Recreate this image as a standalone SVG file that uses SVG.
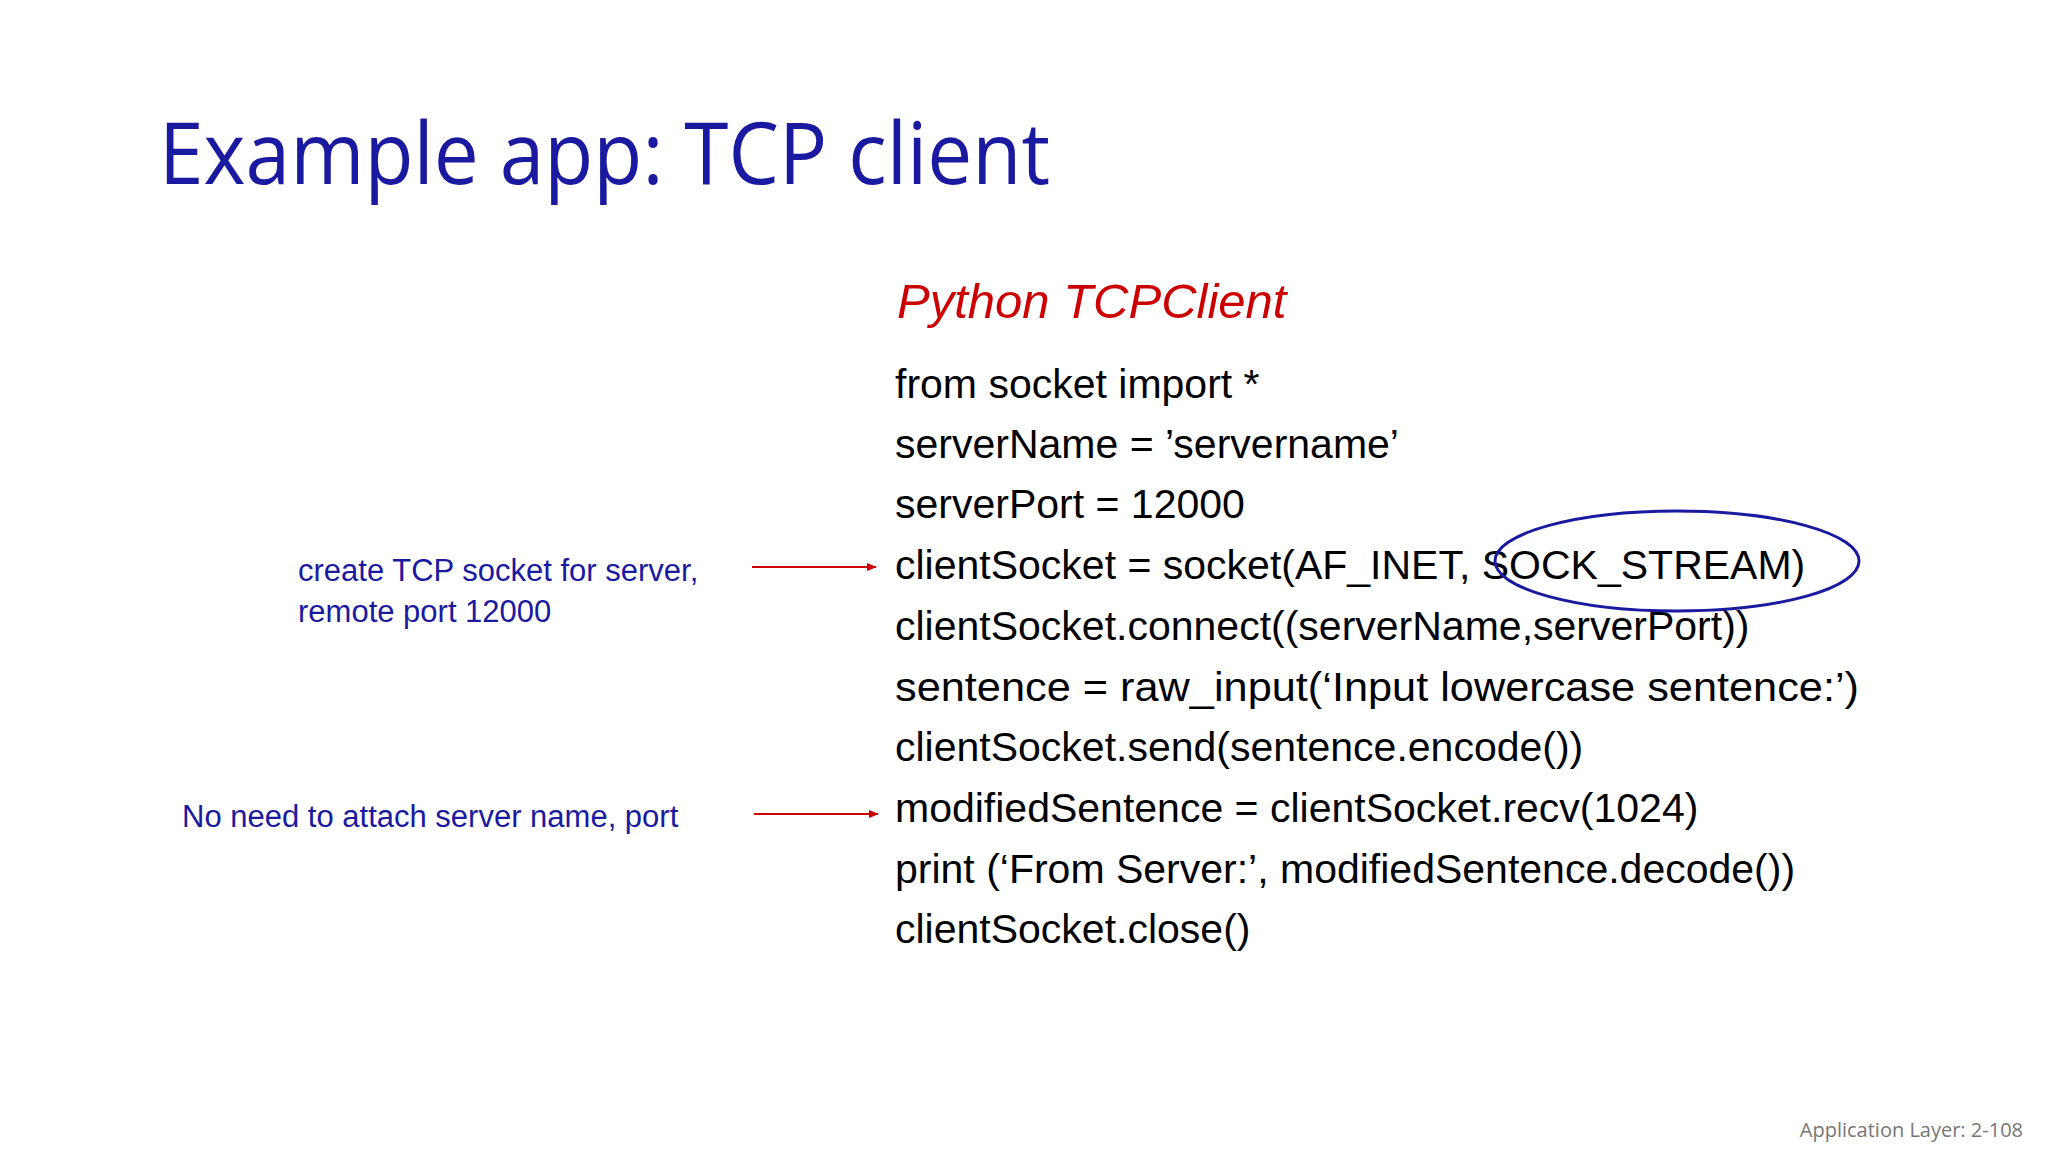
<svg xmlns="http://www.w3.org/2000/svg" width="2048" height="1152" viewBox="0 0 2048 1152">
<defs>
<marker id="ah" markerWidth="10" markerHeight="8" refX="9" refY="4" orient="auto" markerUnits="userSpaceOnUse"><path d="M0,0 L10,4 L0,8 z" fill="#cc0000"/></marker>
<style>
.code{font-family:"Liberation Sans",Arial,sans-serif;font-size:41px;fill:#000}
.note{font-family:"Liberation Sans",Arial,sans-serif;font-size:31px;fill:#1a1aa0}
.arr{stroke:#cc0000;stroke-width:2;fill:none;marker-end:url(#ah)}
</style>
</defs>
<rect width="2048" height="1152" fill="#fff"/>
<text id="title" x="159" y="184" font-family="Open Sans,Noto Sans,sans-serif" font-size="86" fill="#1a1aa0" textLength="891" lengthAdjust="spacingAndGlyphs">Example app: TCP client</text>
<text id="subtitle" x="897" y="318" font-family="Liberation Sans,Arial,sans-serif" font-size="49" font-style="italic" fill="#cc0000">Python TCPClient</text>
<g id="code">
<text class="code" x="895" y="398">from socket import *</text>
<text class="code" x="895" y="458">serverName = ’servername’</text>
<text class="code" x="895" y="518">serverPort = 12000</text>
<text class="code" x="895" y="579">clientSocket = socket(AF_INET, SOCK_STREAM)</text>
<text class="code" x="895" y="640">clientSocket.connect((serverName,serverPort))</text>
<text class="code" x="895" y="701" textLength="964" lengthAdjust="spacingAndGlyphs">sentence = raw_input(‘Input lowercase sentence:’)</text>
<text class="code" x="895" y="761">clientSocket.send(sentence.encode())</text>
<text class="code" x="895" y="822">modifiedSentence = clientSocket.recv(1024)</text>
<text class="code" x="895" y="883">print (‘From Server:’, modifiedSentence.decode())</text>
<text class="code" x="895" y="943">clientSocket.close()</text>
</g>
<g id="ellipse"><ellipse cx="1677" cy="561" rx="182" ry="50" fill="none" stroke="#1a1aa0" stroke-width="3"/></g>
<g id="note1">
<text class="note" x="298" y="581">create TCP socket for server,</text>
<text class="note" x="298" y="622">remote port 12000</text>
</g>
<g id="note2"><text class="note" x="182" y="827">No need to attach server name, port</text></g>
<g id="connectors">
<line class="arr" x1="752" y1="567" x2="876" y2="567"/>
<line class="arr" x1="754" y1="814" x2="878" y2="814"/>
</g>
<text id="footer" x="2023" y="1137" text-anchor="end" font-family="Open Sans,Noto Sans,sans-serif" font-size="20" fill="#777">Application Layer: 2-108</text>
</svg>
